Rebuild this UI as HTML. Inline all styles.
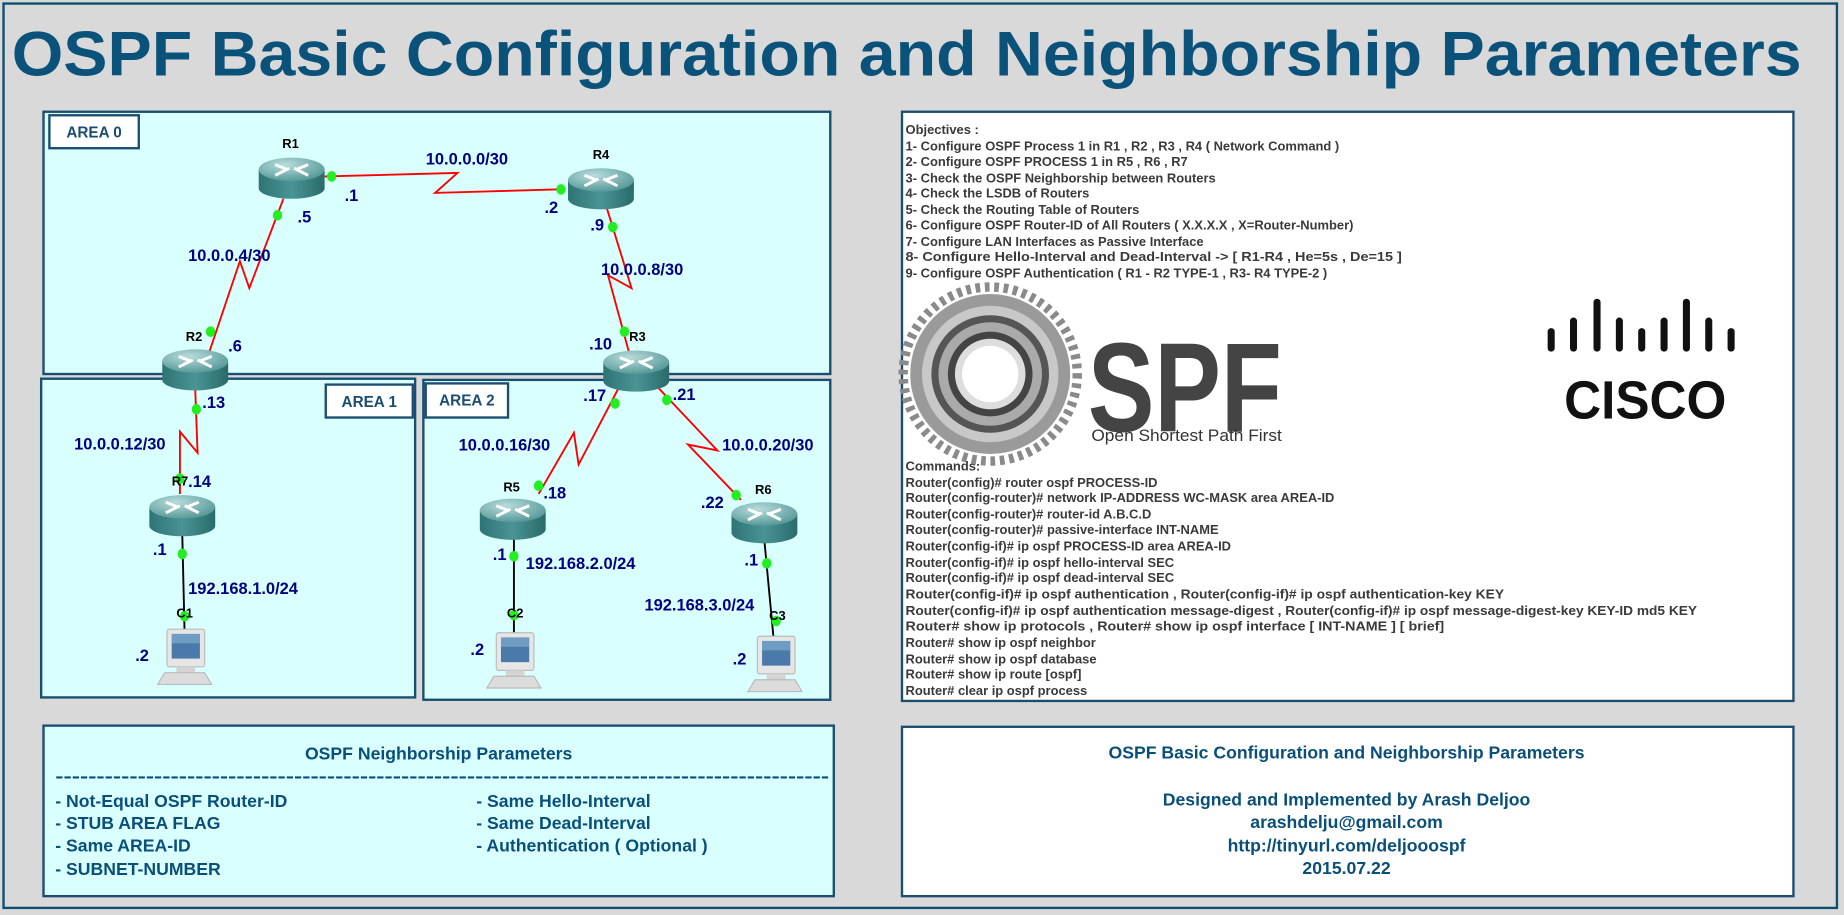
<!DOCTYPE html>
<html><head><meta charset="utf-8"><style>
html,body{margin:0;padding:0;background:#d9d9d9;}
svg{display:block}
text{font-family:"Liberation Sans",sans-serif;}
.ip{fill:#000080;font-weight:bold;font-size:14px}
.rl{fill:#000;font-weight:bold;font-size:11px}
.ob{fill:#3a3a3a;font-weight:bold;font-size:11px}
.bt{fill:#0a4f7a;font-weight:bold;font-size:15px}
</style></head><body>
<svg width="1844" height="915" viewBox="0 0 1568 778" xmlns="http://www.w3.org/2000/svg">
<defs>
<linearGradient id="rb" x1="0" x2="1" y1="0" y2="0"><stop offset="0" stop-color="#2f7474"/><stop offset="0.5" stop-color="#4a9494"/><stop offset="1" stop-color="#2a6a6a"/></linearGradient>
<radialGradient id="rt" cx="0.4" cy="0.3" r="0.8"><stop offset="0" stop-color="#b8dcdc"/><stop offset="1" stop-color="#4a9090"/></radialGradient>
<g id="rtr">
<path d="M-28,-6 L-28,10 A28,9 0 0 0 28,10 L28,-6 Z" fill="url(#rb)"/>
<ellipse cx="0" cy="-6" rx="28" ry="10" fill="url(#rt)"/>
<path d="M-14,-10 L-4,-6 M-10,-3 L-2,-7 M14,-10 L4,-6 M10,-3 L2,-7 M-14,-1 L-6,-5 M14,-1 L6,-5" stroke="#fff" stroke-width="2.5" fill="none"/>
</g>
<g id="pc">
<rect x="-18" y="-25" width="32" height="32" rx="2" fill="#e6e6e6" stroke="#bbb"/>
<rect x="-14" y="-21" width="24" height="21" fill="#4a7aaa"/>
<rect x="-14" y="-21" width="24" height="8" fill="#8ab0d4" opacity="0.6"/>
<rect x="-10" y="7" width="16" height="5" fill="#d4d4d4"/>
<path d="M-20,12 L14,12 L20,22 L-26,22 Z" fill="#dcdcdc" stroke="#bbb"/>
</g>
</defs>
<rect x="0" y="0" width="1568" height="778" fill="#d9d9d9"/>
<rect x="3" y="3" width="1559" height="769" fill="none" stroke="#0d4d6e" stroke-width="2"/>
<text x="10" y="64" fill="#0a527a" font-weight="bold" font-size="54" textLength="1522" lengthAdjust="spacingAndGlyphs">OSPF Basic Configuration and Neighborship Parameters</text>

<!-- areas -->
<rect x="37" y="95" width="669" height="223" fill="#d9ffff" stroke="#1a4d70" stroke-width="2"/>
<rect x="35" y="322" width="318" height="271" fill="#d9ffff" stroke="#1a4d70" stroke-width="2"/>
<rect x="360" y="323" width="346" height="272" fill="#d9ffff" stroke="#1a4d70" stroke-width="2"/>
<rect x="42" y="98" width="76" height="28" fill="#fff" stroke="#1a4d70" stroke-width="2"/>
<text x="80" y="117" text-anchor="middle" fill="#1a4d70" font-weight="bold" font-size="13">AREA 0</text>
<rect x="277" y="327" width="74" height="28" fill="#fff" stroke="#1a4d70" stroke-width="2"/>
<text x="314" y="346" text-anchor="middle" fill="#1a4d70" font-weight="bold" font-size="13">AREA 1</text>
<rect x="362" y="326" width="70" height="29" fill="#fff" stroke="#1a4d70" stroke-width="2"/>
<text x="397" y="345" text-anchor="middle" fill="#1a4d70" font-weight="bold" font-size="13">AREA 2</text>

<!-- links -->
<g stroke="#ff0000" stroke-width="1.6" fill="none">
<path d="M276,150 L389,147 L370,164 L477,161"/>
<path d="M241,169 L212,245 L204,222 L172,317"/>
<path d="M516,177 L537,245 L517,234 L535,300"/>
<path d="M166,331 L168,385 L153,367 L153,420"/>
<path d="M526,330 L492,395 L488,368 L458,420"/>
<path d="M560,330 L610,383 L585,378 L630,425"/>
</g>
<g stroke="#000" stroke-width="1.6">
<line x1="155" y1="455" x2="157" y2="540"/>
<line x1="437" y1="458" x2="437" y2="540"/>
<line x1="650" y1="460" x2="658" y2="545"/>
</g>
<!-- routers -->
<use href="#rtr" x="248" y="150"/>
<use href="#rtr" x="511" y="159"/>
<use href="#rtr" x="166" y="313"/>
<use href="#rtr" x="541" y="314"/>
<use href="#rtr" x="155" y="437"/>
<use href="#rtr" x="436" y="440"/>
<use href="#rtr" x="650" y="443"/>
<use href="#pc" x="160" y="560"/>
<use href="#pc" x="440" y="563"/>
<use href="#pc" x="662" y="566"/>
<!-- dots -->
<g fill="#22ee22">
<ellipse cx="282" cy="150" rx="4" ry="4.5"/><ellipse cx="477" cy="161" rx="4" ry="4.5"/>
<ellipse cx="236" cy="183" rx="4" ry="4.5"/><ellipse cx="179" cy="282" rx="4" ry="4.5"/>
<ellipse cx="521" cy="193" rx="4" ry="4.5"/><ellipse cx="531" cy="282" rx="4" ry="4.5"/>
<ellipse cx="167" cy="348" rx="4" ry="4.5"/><ellipse cx="153" cy="407" rx="4" ry="4.5"/>
<ellipse cx="523" cy="343" rx="4" ry="4.5"/><ellipse cx="567" cy="340" rx="4" ry="4.5"/>
<ellipse cx="458" cy="413" rx="4" ry="4.5"/><ellipse cx="626" cy="421" rx="4" ry="4.5"/>
<ellipse cx="155" cy="471" rx="4" ry="4.5"/><ellipse cx="437" cy="473" rx="4" ry="4.5"/><ellipse cx="652" cy="479" rx="4" ry="4.5"/>
<ellipse cx="157" cy="524" rx="4" ry="4.5"/><ellipse cx="437" cy="523" rx="4" ry="4.5"/><ellipse cx="660" cy="528" rx="4" ry="4.5"/>
</g>
<!-- labels -->
<g class="rl">
<text x="240" y="126" class="rl">R1</text><text x="504" y="135" class="rl">R4</text>
<text x="158" y="290" class="rl">R2</text><text x="535" y="290" class="rl">R3</text>
<text x="146" y="413" class="rl">R7</text><text x="428" y="418" class="rl">R5</text><text x="642" y="420" class="rl">R6</text>
<text x="150" y="525" class="rl">C1</text><text x="431" y="525" class="rl">C2</text><text x="654" y="527" class="rl">C3</text>
</g>
<g class="ip">
<text x="362" y="140" class="ip">10.0.0.0/30</text>
<text x="293" y="171" class="ip">.1</text><text x="253" y="189" class="ip">.5</text>
<text x="463" y="181" class="ip">.2</text><text x="502" y="196" class="ip">.9</text>
<text x="160" y="222" class="ip">10.0.0.4/30</text><text x="511" y="234" class="ip">10.0.0.8/30</text>
<text x="194" y="299" class="ip">.6</text><text x="501" y="297" class="ip">.10</text>
<text x="172" y="347" class="ip">.13</text><text x="63" y="382" class="ip">10.0.0.12/30</text>
<text x="160" y="414" class="ip">.14</text>
<text x="496" y="341" class="ip">.17</text><text x="572" y="340" class="ip">.21</text>
<text x="390" y="383" class="ip">10.0.0.16/30</text><text x="614" y="383" class="ip">10.0.0.20/30</text>
<text x="462" y="424" class="ip">.18</text><text x="596" y="432" class="ip">.22</text>
<text x="130" y="472" class="ip">.1</text><text x="419" y="476" class="ip">.1</text><text x="633" y="481" class="ip">.1</text>
<text x="160" y="505" class="ip">192.168.1.0/24</text><text x="447" y="484" class="ip">192.168.2.0/24</text><text x="548" y="519" class="ip">192.168.3.0/24</text>
<text x="115" y="562" class="ip">.2</text><text x="400" y="557" class="ip">.2</text><text x="623" y="565" class="ip">.2</text>
</g>

<!-- objectives box -->
<rect x="767" y="95" width="758" height="501" fill="#fff" stroke="#1a4d70" stroke-width="2"/>
<g class="ob">
<text x="770" y="114">Objectives :</text>
<text x="770" y="128">1- Configure OSPF Process 1 in R1 , R2 , R3 , R4 ( Network Command )</text>
<text x="770" y="141">2- Configure OSPF PROCESS 1 in R5 , R6 , R7</text>
<text x="770" y="155">3- Check the OSPF Neighborship between Routers</text>
<text x="770" y="168">4- Check the LSDB of Routers</text>
<text x="770" y="182">5- Check the Routing Table of Routers</text>
<text x="770" y="195">6- Configure OSPF Router-ID of All Routers ( X.X.X.X , X=Router-Number)</text>
<text x="770" y="209">7- Configure LAN Interfaces as Passive Interface</text>
<text x="770" y="222" textLength="422" lengthAdjust="spacingAndGlyphs">8- Configure Hello-Interval and Dead-Interval -&gt; [ R1-R4  , He=5s , De=15 ]</text>
<text x="770" y="236">9- Configure OSPF Authentication ( R1 - R2 TYPE-1 , R3- R4 TYPE-2 )</text>
<text x="770" y="400">Commands:</text>
<text x="770" y="414">Router(config)# router ospf PROCESS-ID</text>
<text x="770" y="427">Router(config-router)# network IP-ADDRESS  WC-MASK area  AREA-ID</text>
<text x="770" y="441">Router(config-router)# router-id A.B.C.D</text>
<text x="770" y="454">Router(config-router)# passive-interface INT-NAME</text>
<text x="770" y="468">Router(config-if)# ip ospf PROCESS-ID area AREA-ID</text>
<text x="770" y="482">Router(config-if)# ip ospf hello-interval SEC</text>
<text x="770" y="495">Router(config-if)# ip ospf dead-interval SEC</text>
<text x="770" y="509" textLength="509" lengthAdjust="spacingAndGlyphs">Router(config-if)# ip ospf authentication , Router(config-if)# ip ospf authentication-key KEY</text>
<text x="770" y="523" textLength="673" lengthAdjust="spacingAndGlyphs">Router(config-if)# ip ospf authentication message-digest , Router(config-if)# ip ospf message-digest-key KEY-ID md5 KEY</text>
<text x="770" y="536" textLength="458" lengthAdjust="spacingAndGlyphs">Router# show ip protocols     , Router# show ip ospf interface [ INT-NAME ] [ brief]</text>
<text x="770" y="550">Router# show ip ospf neighbor</text>
<text x="770" y="564">Router# show ip ospf database</text>
<text x="770" y="577">Router# show ip route [ospf]</text>
<text x="770" y="591">Router# clear ip ospf process</text>
</g>
<!-- OSPF logo -->
<g>
<circle cx="842" cy="318" r="74" fill="none" stroke="#8a8a8a" stroke-width="8" stroke-dasharray="4 4"/>
<circle cx="842" cy="318" r="68" fill="#9a9a9a"/>
<circle cx="842" cy="318" r="58" fill="#c8c8c8"/>
<circle cx="842" cy="318" r="50" fill="#555"/>
<circle cx="842" cy="318" r="44" fill="#aaa"/>
<circle cx="842" cy="318" r="36" fill="#444"/>
<circle cx="842" cy="318" r="30" fill="#ddd"/>
<circle cx="842" cy="318" r="24" fill="#fff"/>
<text x="925" y="367" fill="#444" font-weight="bold" font-size="108" textLength="165" lengthAdjust="spacingAndGlyphs">SPF</text>
<text x="928" y="375" fill="#333" font-size="14" font-family="Liberation Serif" textLength="162" lengthAdjust="spacingAndGlyphs">Open Shortest Path First</text>
</g>
<!-- cisco -->
<g fill="#111">
<rect x="1316" y="279" width="6" height="20" rx="3"/><rect x="1335" y="270" width="6" height="29" rx="3"/>
<rect x="1355" y="254" width="6" height="45" rx="3"/><rect x="1374" y="270" width="6" height="29" rx="3"/>
<rect x="1393" y="279" width="6" height="20" rx="3"/><rect x="1412" y="270" width="6" height="29" rx="3"/>
<rect x="1431" y="254" width="6" height="45" rx="3"/><rect x="1450" y="270" width="6" height="29" rx="3"/>
<rect x="1469" y="279" width="6" height="20" rx="3"/>
<text x="1330" y="356" font-weight="bold" font-size="46" textLength="138" lengthAdjust="spacingAndGlyphs">CISCO</text>
</g>

<!-- bottom boxes -->
<rect x="37" y="617" width="672" height="145" fill="#d9ffff" stroke="#1a4d70" stroke-width="2"/>
<text x="373" y="646" text-anchor="middle" class="bt">OSPF Neighborship Parameters</text>
<text x="47" y="665" class="bt" textLength="658" lengthAdjust="spacingAndGlyphs">----------------------------------------------------------------------------------------------</text>
<text x="47" y="686" class="bt">- Not-Equal OSPF Router-ID</text>
<text x="47" y="705" class="bt">- STUB AREA FLAG</text>
<text x="47" y="724" class="bt">- Same AREA-ID</text>
<text x="47" y="744" class="bt">- SUBNET-NUMBER</text>
<text x="405" y="686" class="bt">- Same Hello-Interval</text>
<text x="405" y="705" class="bt">- Same Dead-Interval</text>
<text x="405" y="724" class="bt">- Authentication ( Optional )</text>
<rect x="767" y="618" width="758" height="144" fill="#fff" stroke="#1a4d70" stroke-width="2"/>
<g class="bt" text-anchor="middle">
<text x="1145" y="645">OSPF Basic Configuration and Neighborship Parameters</text>
<text x="1145" y="685">Designed and Implemented by Arash Deljoo</text>
<text x="1145" y="704">arashdelju@gmail.com</text>
<text x="1145" y="724">http://tinyurl.com/deljooospf</text>
<text x="1145" y="743">2015.07.22</text>
</g>
</svg>
</body></html>
